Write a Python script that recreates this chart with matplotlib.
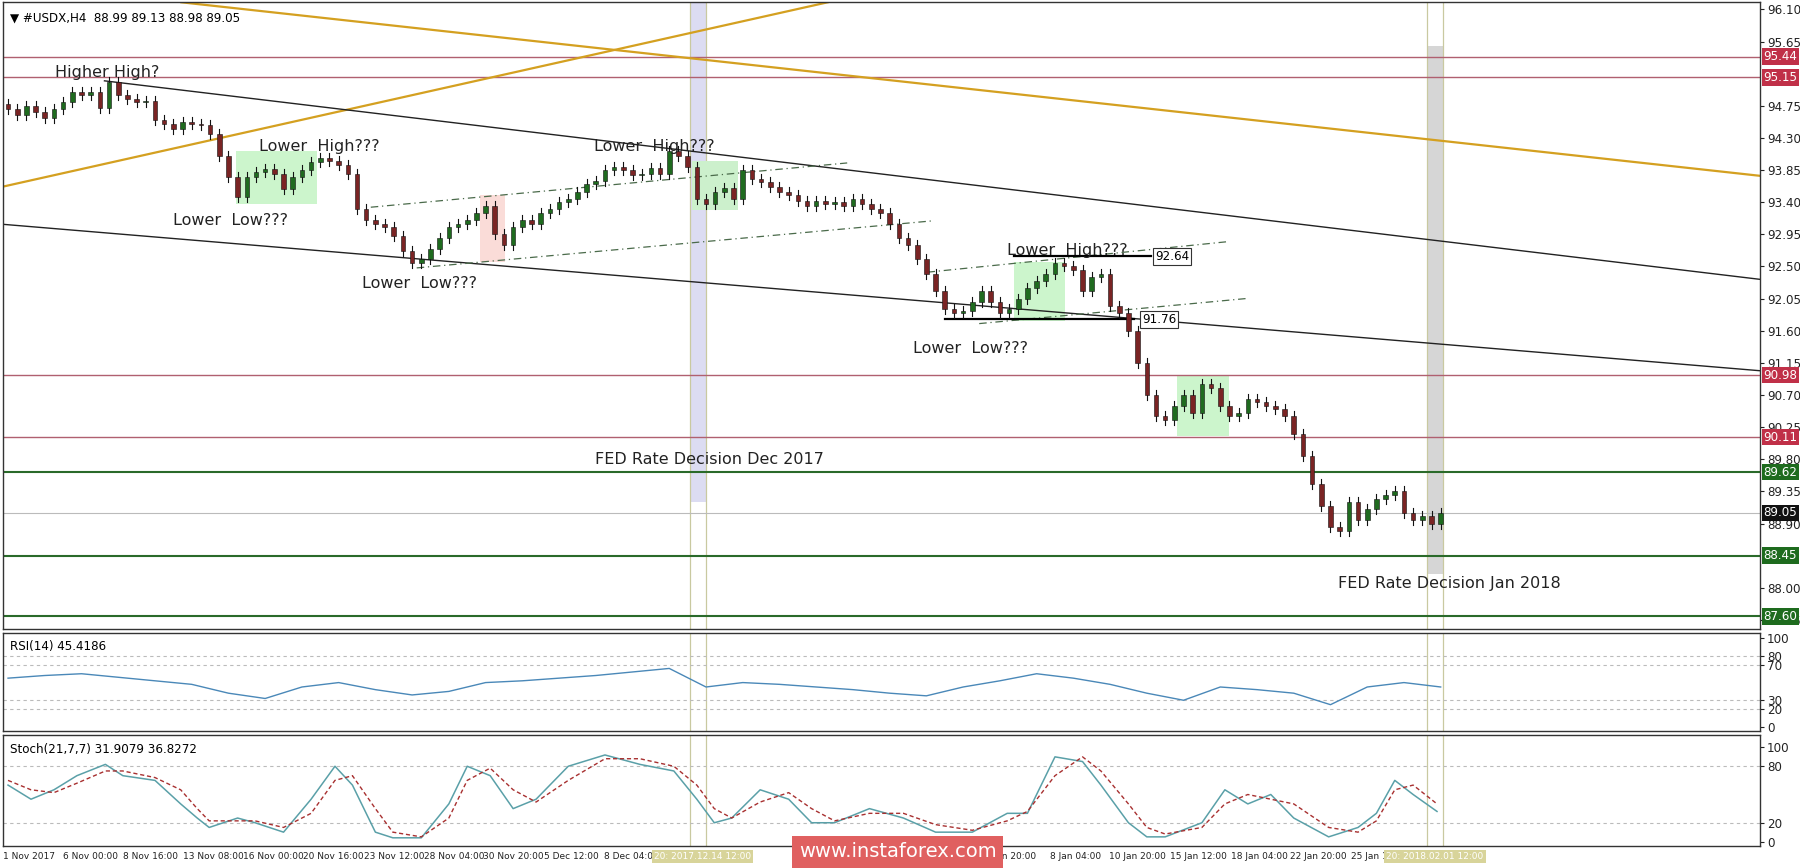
import matplotlib
matplotlib.use("Agg")
import matplotlib.pyplot as plt
from matplotlib.patches import Rectangle
import numpy as np

plt.rcParams['font.family'] = ['DejaVu Sans']

closes = [94.70,94.62,94.75,94.66,94.58,94.70,94.80,94.95,94.90,94.95,94.72,95.08,94.90,94.85,94.80,94.82,
          94.55,94.50,94.42,94.52,94.50,94.48,94.35,94.05,93.75,93.48,93.75,93.82,93.86,93.80,93.58,93.75,
          93.85,93.96,94.02,93.98,93.92,93.80,93.30,93.15,93.10,93.05,92.92,92.72,92.55,92.60,92.75,92.90,
          93.05,93.10,93.15,93.25,93.35,92.95,92.80,93.05,93.15,93.10,93.25,93.30,93.40,93.45,93.55,93.65,
          93.70,93.85,93.90,93.85,93.78,93.80,93.88,93.80,94.12,94.05,93.90,93.45,93.38,93.55,93.60,93.45,
          93.85,93.72,93.68,93.62,93.55,93.50,93.42,93.35,93.42,93.38,93.40,93.35,93.45,93.38,93.30,93.25,
          93.10,92.90,92.80,92.60,92.40,92.15,91.90,91.85,91.88,92.00,92.15,92.00,91.85,91.90,92.05,92.20,
          92.30,92.40,92.55,92.50,92.45,92.15,92.35,92.40,91.95,91.85,91.60,91.15,90.70,90.40,90.35,90.55,
          90.70,90.45,90.85,90.80,90.55,90.40,90.45,90.65,90.60,90.55,90.50,90.40,90.15,89.85,89.45,89.15,
          88.85,88.80,89.20,88.95,89.10,89.25,89.30,89.35,89.05,88.95,89.00,88.90,89.05]
first_open = 94.78

rsi_x = list(range(0, 160, 4))
rsi = [55,58,60,56,52,48,38,32,45,50,42,36,40,50,52,55,58,62,66,45,50,48,45,42,38,35,45,52,60,55,48,38,30,45,42,38,25,45,50,45]

stoch_x = [0,2.5,5,7.5,10.6,12.5,16,18.8,20.6,21.9,25,26.9,30,33,35.6,37.5,40,41.9,45,48,50,52.5,55,57.5,61,65,
           68.8,72.5,75,76.9,78.8,81.9,85,87.5,90,93.8,97.5,101,105,108.8,111,114,117,119,122,124,126,130,132.5,135,
           137.5,140,143.8,147,149,151,153,155.6]
stoch_k = [60,45,55,70,82,70,65,40,25,15,25,20,10,45,80,60,10,4,4,40,80,70,35,45,80,92,82,75,45,20,25,55,45,20,20,35,25,
           10,10,30,30,90,85,60,20,5,5,20,55,40,50,25,5,15,30,65,50,32]
stoch_d = [65,55,52,62,75,75,68,55,35,22,22,22,15,30,65,70,35,10,5,25,65,78,55,42,65,88,88,80,60,35,25,42,52,35,22,30,30,
           18,12,22,32,70,90,75,40,15,8,15,40,50,45,40,15,10,22,55,60,40]

price_ticks = [96.10,95.65,94.75,94.30,93.85,93.40,92.95,92.50,92.05,91.60,91.15,90.70,90.25,89.80,89.35,88.90,88.00,87.55]
red_levels = [95.44,95.15,90.98,90.11]
green_levels = [89.62,88.45,87.60]
last_price = 89.05

xlabels = ["1 Nov 2017","6 Nov 00:00","8 Nov 16:00","13 Nov 08:00","16 Nov 00:00","20 Nov 16:00","23 Nov 12:00",
           "28 Nov 04:00","30 Nov 20:00","5 Dec 12:00","8 Dec 04:00","13 Dec 12:00","18 Dec 04:00","20 Dec 20:00",
           "26 Dec 12:00","29 Dec 04:00","3 Jan 20:00","8 Jan 04:00","10 Jan 20:00","15 Jan 12:00","18 Jan 04:00",
           "22 Jan 20:00","25 Jan 12:00"]
xlabel_px = [3,55,107,159,212,264,317,369,421,474,526,630,648,700,752,805,858,915,966,1019,1072,1124,1177]

W, H = 1568, 756
FS = 8.6
fig = plt.figure(figsize=(18, 8.68), dpi=100)
def axrect(y0, y1):
    return [3/W, 1-y1/H, 1530/W, (y1-y0)/H]
ax = fig.add_axes(axrect(2, 548))
ar = fig.add_axes(axrect(551, 637))
ast = fig.add_axes(axrect(640, 737))
XL = (-0.5, 1530/8-0.5)
for a in (ax, ar, ast):
    a.set_xlim(*XL)
    a.set_xticks([])
    a.yaxis.tick_right()
    a.tick_params(axis='y', labelsize=FS, length=3, pad=2, colors='#222222')
    for s in a.spines.values():
        s.set_color('#333333'); s.set_linewidth(1)
ax.set_ylim(87.42, 96.2)
ar.set_ylim(-5.2, 106.5)
ast.set_ylim(-4.9, 113.4)

def bx(px):
    return px/8 - 0.5

ax.add_patch(Rectangle((bx(598), 89.2), bx(612)-bx(598), 7.5, color='#dcdcf2', zorder=0.5, lw=0))
ax.add_patch(Rectangle((bx(1240), 88.19), bx(1254)-bx(1240), 95.59-88.19, color='#d6d6d6', zorder=0.5, lw=0))
for a in (ax, ar, ast):
    for p in (598, 612, 1240, 1254):
        a.axvline(bx(p), color='#c9c9a0', lw=0.9, zorder=0.6)

boxes = [(203, 273, 93.37, 94.12, '#ccf5cc'), (415, 437, 92.56, 93.50, '#fadcd8'), (600, 640, 93.29, 93.98, '#ccf0cc'),
         (880, 925, 91.73, 92.56, '#ccf5cc'), (1022, 1068, 90.12, 90.98, '#ccf5cc')]
for x0, x1, y0, y1, c in boxes:
    ax.add_patch(Rectangle((bx(x0), y0), bx(x1)-bx(x0), y1-y0, color=c, zorder=0.7, lw=0))

for l in red_levels:
    ax.axhline(l, color='#b06070', lw=1, zorder=1)
for l in green_levels:
    ax.axhline(l, color='#2a6a2a', lw=1.5, zorder=1)
ax.axhline(last_price, color='#bbbbbb', lw=0.8, zorder=1)

ax.plot([bx(0), bx(718)], [93.62, 96.2], color='#d4a020', lw=1.6, zorder=1.2)
ax.plot([bx(155), bx(1530)], [96.2, 93.77], color='#d4a020', lw=1.6, zorder=1.2)
ax.plot([bx(88), bx(1530)], [95.10, 92.32], color='#222222', lw=1, zorder=1.2)
ax.plot([bx(0), bx(1530)], [93.09, 91.04], color='#222222', lw=1, zorder=1.2)
for (x0, y0, x1, y1) in [(320, 93.33, 735, 93.95), (360, 92.48, 810, 93.14), (805, 92.42, 1068, 92.85), (850, 91.70, 1082, 92.05)]:
    ax.plot([bx(x0), bx(x1)], [y0, y1], color='#4a6a4a', lw=0.9, ls=(0, (6, 3, 1, 3)), zorder=1.2)
ax.plot([bx(880), bx(1000)], [92.64, 92.64], color='black', lw=1.6, zorder=1.3)
ax.plot([bx(820), bx(985)], [91.76, 91.76], color='black', lw=1.6, zorder=1.3)
ax.text(bx(1003), 92.64, '92.64', fontsize=FS, va='center', ha='left', zorder=5,
        bbox=dict(boxstyle='square,pad=0.15', fc='white', ec='#333333', lw=0.8))
ax.text(bx(992), 91.76, '91.76', fontsize=FS, va='center', ha='left', zorder=5,
        bbox=dict(boxstyle='square,pad=0.15', fc='white', ec='#333333', lw=0.8))

opens = [first_open] + closes[:-1]
idx = np.arange(len(closes))
for i, o, c in zip(idx, opens, closes):
    hi = max(o, c) + 0.07
    lo = min(o, c) - 0.07
    ax.plot([i, i], [lo, hi], color='#111111', lw=0.8, zorder=2)
    col = '#1f6b1f' if c >= o else '#7a2424'
    ax.add_patch(Rectangle((i-0.25, min(o, c)), 0.5, max(abs(c-o), 0.015), fc=col, ec='#111111', lw=0.4, zorder=3))

t_kw = dict(fontsize=11.5, color='#222222', zorder=6, ha='center')
def py(y):
    return 96.10 - (y-8)/62.2
for px, ypx, s in [(90, 63, 'Higher High?'), (275, 127, 'Lower  High???'), (198, 192, 'Lower  Low???'),
                   (362, 247, 'Lower  Low???'), (567, 127, 'Lower  High???'), (927, 218, 'Lower  High???'),
                   (842, 303, 'Lower  Low???'), (615, 400, 'FED Rate Decision Dec 2017'), (1260, 508, 'FED Rate Decision Jan 2018')]:
    ax.text(bx(px), py(ypx), s, va='center', **t_kw)
ax.text(0.004, 0.985, '\u25bc #USDX,H4  88.99 89.13 88.98 89.05', transform=ax.transAxes, fontsize=FS, va='top', ha='left')

ax.set_yticks(price_ticks)
ax.set_yticklabels([f'{v:.2f}' for v in price_ticks])
def lvl(l, fc):
    ax.text(1.002, l, f'{l:.2f}', transform=ax.get_yaxis_transform(), fontsize=FS, color='white', va='center', ha='left',
            bbox=dict(boxstyle='square,pad=0.15', fc=fc, ec='none'), zorder=10, clip_on=False)
for l in red_levels:
    lvl(l, '#c03048')
for l in green_levels:
    lvl(l, '#1e6b1e')
lvl(last_price, '#111111')

for l in (80, 70, 30, 20):
    ar.axhline(l, color='#bbbbbb', lw=0.8, ls=(0, (3, 3)))
ar.plot(rsi_x, rsi, color='#4a88b8', lw=1)
ar.set_yticks([100, 80, 70, 30, 20, 0])
ar.text(0.004, 0.93, 'RSI(14) 45.4186', transform=ar.transAxes, fontsize=FS, va='top')

for l in (80, 20):
    ast.axhline(l, color='#bbbbbb', lw=0.8, ls=(0, (3, 3)))
ast.plot(stoch_x, stoch_k, color='#5aa0a8', lw=1.1)
ast.plot(stoch_x, stoch_d, color='#a83030', lw=1, ls=(0, (3, 2)))
ast.set_yticks([100, 80, 20, 0])
ast.text(0.004, 0.93, 'Stoch(21,7,7) 31.9079 36.8272', transform=ast.transAxes, fontsize=FS, va='top')

for px, s in zip(xlabel_px, xlabels):
    if 560 < px < 690 or 1200 < px < 1300:
        continue
    fig.text(px/W, 1-746/H, s, fontsize=6.5, ha='left', va='center', color='#222222')
for px, s in [(612, '20: 2017.12.14 12:00'), (1250, '20: 2018.02.01 12:00')]:
    fig.text(px/W, 1-746/H, s, fontsize=6.5, ha='center', va='center', color='white',
             bbox=dict(boxstyle='square,pad=0.25', fc='#d8d49a', ec='none'), zorder=10)
fig.text(782/W, 1-742/H, 'www.instaforex.com', fontsize=14, ha='center', va='center', color='white',
         bbox=dict(boxstyle='square,pad=0.35', fc='#e06060', ec='none'), zorder=11)

fig.savefig('out.png', dpi=100)
